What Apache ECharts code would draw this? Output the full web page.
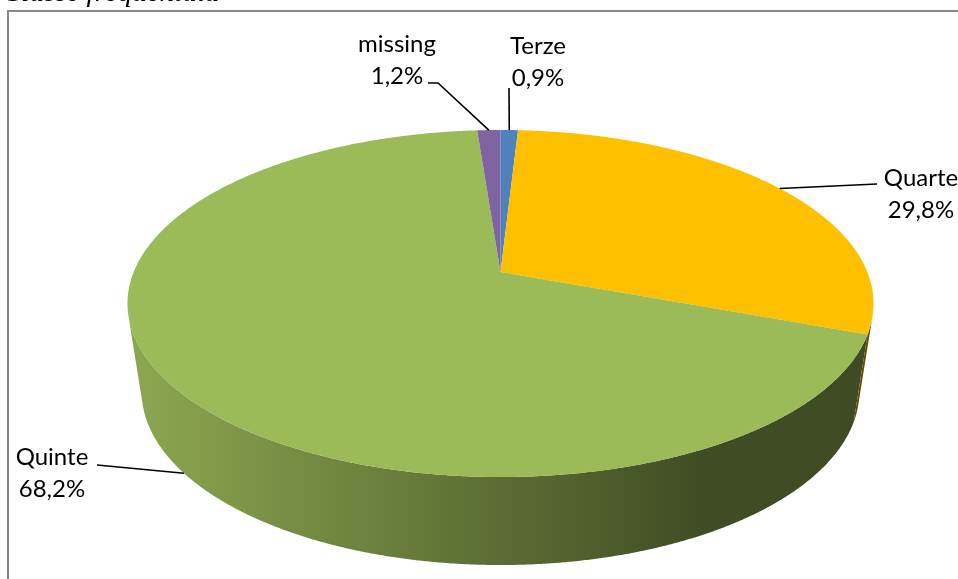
<!DOCTYPE html>
<html>
<head>
<meta charset="utf-8">
<script src="https://cdn.jsdelivr.net/npm/echarts@6/dist/echarts.min.js"></script>
<style>
  html, body { margin: 0; padding: 0; background: #ffffff; }
  #chart { width: 958px; height: 579px; }
</style>
</head>
<body>
<div id="chart"></div>
<script>
// Share of pupils by class attended (percent), clockwise from 12 o'clock
const categories = ['Terze', 'Quarte', 'Quinte', 'missing'];
const shares = [0.9, 29.8, 68.2, 1.2];
const sliceColors = ['#4F81BD', '#FFC000', '#9BBB59', '#8064A2'];
const chartTitle = 'Classe frequentata';

// Geometry of the tilted disc (perspective ellipse) and its rim
const disc = { cx: 500.5, cy: 272, rx: 366.8, ry: 167.8, persp: 0.1816, depth: 88, baseShrink: 0.962 };

// Rim shading: left side lit, right side in shadow (factor applied to slice colour)
const rimShade = [[0, 0.9], [0.77, 0.41], [1, 0.40]];

// Label placement: text block centre and leader elbow points
const labelLayout = {
  Terze:   { text: [538, 62],  elbow: [[509, 88]] },
  Quarte:  { text: [921, 194], elbow: [[877, 184]] },
  Quinte:  { text: [52, 473],  elbow: [[97, 465]] },
  missing: { text: [397, 60],  elbow: [[428, 83], [438, 83]] }
};

function topPoint(t) {
  const u = Math.sin(t), v = Math.cos(t);
  const d = 1 + disc.persp * v;
  return [disc.cx + disc.rx * u / d, disc.cy - disc.ry * v / d];
}
function bottomPoint(t) {
  const p = topPoint(t);
  return [disc.cx + (p[0] - disc.cx) * disc.baseShrink, p[1] + disc.depth];
}

const total = shares.reduce((a, b) => a + b, 0);
const spans = [];
(function () {
  let acc = 0;
  shares.forEach(v => {
    const a0 = acc / total * 2 * Math.PI;
    acc += v;
    spans.push([a0, acc / total * 2 * Math.PI]);
  });
})();

const STEP = Math.PI / 720;

function arcPoints(fn, a0, a1) {
  const n = Math.max(2, Math.ceil((a1 - a0) / STEP));
  const pts = [];
  for (let i = 0; i <= n; i++) pts.push(fn(a0 + (a1 - a0) * i / n));
  return pts;
}

function facesViewer(a, b) {
  const p = [topPoint(a), topPoint(b), bottomPoint(b), bottomPoint(a)];
  let s = 0;
  for (let i = 0; i < 4; i++) {
    const q = p[i], r = p[(i + 1) % 4];
    s += q[0] * r[1] - r[0] * q[1];
  }
  return s < 0;
}

function shade(hex, f) {
  const n = parseInt(hex.slice(1), 16);
  const r = (n >> 16) & 255, g = (n >> 8) & 255, b = n & 255;
  return 'rgb(' + Math.round(r * f) + ',' + Math.round(g * f) + ',' + Math.round(b * f) + ')';
}

function rimFill(color) {
  return {
    type: 'linear', global: true,
    x: disc.cx - 373, y: 0, x2: disc.cx + 373, y2: 0,
    colorStops: rimShade.map(s => ({ offset: s[0], color: shade(color, s[1]) }))
  };
}

function renderRim(params, api) {
  const i = params.dataIndex;
  const [a0, a1] = spans[i];
  const n = Math.max(2, Math.ceil((a1 - a0) / STEP));
  let start = -1, end = -1;
  for (let k = 0; k < n; k++) {
    const ta = a0 + (a1 - a0) * k / n, tb = a0 + (a1 - a0) * (k + 1) / n;
    if (facesViewer(ta, tb)) {
      if (start < 0) start = ta;
      end = tb;
    }
  }
  if (start < 0) return { type: 'group', children: [] };
  const top = arcPoints(topPoint, start, end);
  const bot = arcPoints(bottomPoint, start, end).reverse();
  return {
    type: 'polygon',
    shape: { points: top.concat(bot) },
    style: { fill: rimFill(sliceColors[i]), stroke: null }
  };
}

function renderTop(params, api) {
  const i = params.dataIndex;
  const [a0, a1] = spans[i];
  const pts = [[disc.cx, disc.cy]].concat(arcPoints(topPoint, a0, a1));
  return {
    type: 'polygon',
    shape: { points: pts },
    style: { fill: sliceColors[i], stroke: null }
  };
}

function renderLabel(params, api) {
  const i = params.dataIndex;
  const name = categories[i];
  const value = api.value(0);
  const [a0, a1] = spans[i];
  const mid = (a0 + a1) / 2;
  const anchor = Math.cos(mid) >= 0 ? topPoint(mid) : bottomPoint(mid);
  const lay = labelLayout[name];
  const pct = value.toFixed(1).replace('.', ',') + '%';
  return {
    type: 'group',
    children: [
      {
        type: 'polyline',
        shape: { points: lay.elbow.concat([anchor]) },
        style: { stroke: '#000000', lineWidth: 1.6, fill: null }
      },
      {
        type: 'text',
        x: lay.text[0], y: lay.text[1],
        style: {
          text: name + '\n' + pct,
          align: 'center', verticalAlign: 'middle',
          fontSize: 24, lineHeight: 32,
          fontFamily: 'Lato', fill: '#000000'
        }
      }
    ]
  };
}

const chart = echarts.init(document.getElementById('chart'), null, { renderer: 'canvas' });
chart.setOption({
  animation: false,
  backgroundColor: '#ffffff',
  graphic: [
    {
      type: 'rect',
      shape: { x: 8, y: 11, width: 1000, height: 700 },
      style: { fill: null, stroke: '#898989', lineWidth: 2 },
      z: 0
    },
    {
      type: 'text',
      x: 2, y: 8,
      style: {
        text: chartTitle,
        fontFamily: '"Liberation Serif"', fontStyle: 'italic', fontSize: 29,
        fill: '#000000', align: 'left', verticalAlign: 'bottom'
      },
      z: 0
    }
  ],
  series: [
    { type: 'custom', name: 'rim', coordinateSystem: 'none', z: 1, silent: true, data: shares, renderItem: renderRim },
    { type: 'custom', name: 'top', coordinateSystem: 'none', z: 2, silent: true, data: shares, renderItem: renderTop },
    { type: 'custom', name: 'labels', coordinateSystem: 'none', z: 3, silent: true, data: shares, renderItem: renderLabel }
  ]
});
</script>
</body>
</html>
